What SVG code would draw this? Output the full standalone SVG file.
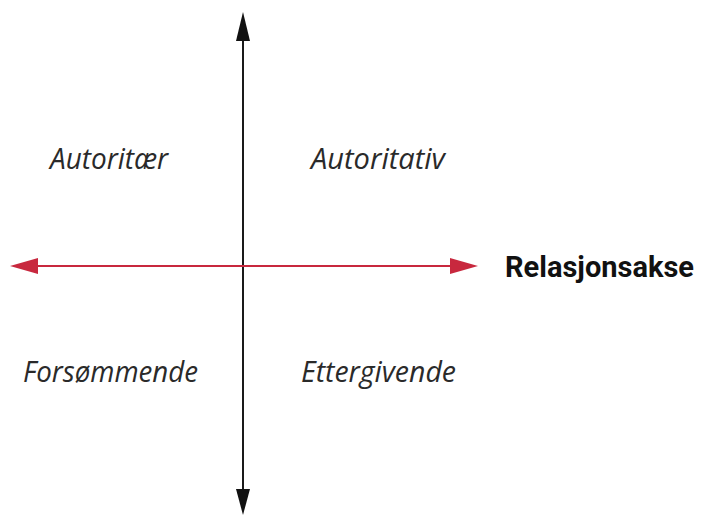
<svg xmlns="http://www.w3.org/2000/svg" width="701" height="517" viewBox="0 0 701 517">
<style>
.q{font-family:"Open Sans","Liberation Sans",sans-serif;font-style:italic;font-size:30px;fill:#2a2a2a}
.ax{font-family:Roboto,"Liberation Sans",sans-serif;font-weight:bold;font-size:29px;fill:#111}
</style>
<rect width="701" height="517" fill="#fff"/>
<g id="connectors">
<line x1="243" y1="36" x2="243" y2="492" stroke="#1a1a1a" stroke-width="2"/>
<polygon points="243,12 236,41 250,41" fill="#111"/>
<polygon points="243,515 236,489 250,489" fill="#111"/>
<line x1="34" y1="266" x2="454" y2="266" stroke="#c8283e" stroke-width="2"/>
<polygon points="10,266 38,258 38,274" fill="#c8283e"/>
<polygon points="478,266 450,258 450,274" fill="#c8283e"/>
</g>
<g id="autoritaer"><text class="q" x="50" y="169" textLength="118" lengthAdjust="spacingAndGlyphs">Autoritær</text></g>
<g id="autoritativ"><text class="q" x="311" y="169" textLength="134" lengthAdjust="spacingAndGlyphs">Autoritativ</text></g>
<g id="forsommende"><text class="q" x="23" y="382" textLength="175" lengthAdjust="spacingAndGlyphs">Forsømmende</text></g>
<g id="ettergivende"><text class="q" x="301" y="382" textLength="155" lengthAdjust="spacingAndGlyphs">Ettergivende</text></g>
<g id="relasjonsakse"><text class="ax" x="505" y="277">Relasjonsakse</text></g>
</svg>
